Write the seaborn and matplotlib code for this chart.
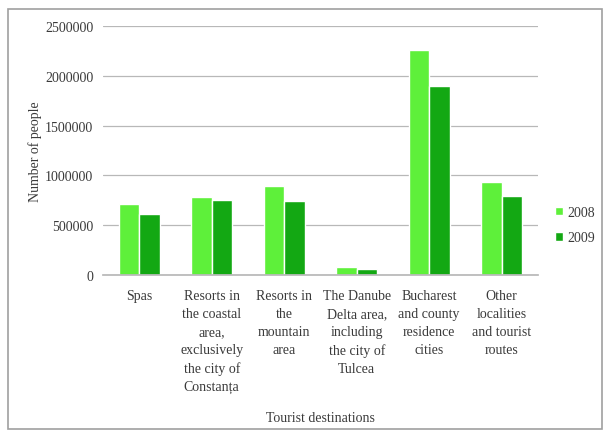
import matplotlib
matplotlib.use("Agg")
import matplotlib.pyplot as plt
from matplotlib.patches import Rectangle
import seaborn as sns
import pandas as pd

categories = [
    "Spas",
    "Resorts in\nthe coastal\narea,\nexclusively\nthe city of\nConstanța",
    "Resorts in\nthe\nmountain\narea",
    "The Danube\nDelta area,\nincluding\nthe city of\nTulcea",
    "Bucharest\nand county\nresidence\ncities",
    "Other\nlocalities\nand tourist\nroutes",
]
values_2008 = [710000, 780000, 890000, 80000, 2260000, 935000]
values_2009 = [610000, 750000, 740000, 60000, 1900000, 790000]
years = ["2008", "2009"]
y_ticks = [0, 500000, 1000000, 1500000, 2000000, 2500000]

df = pd.DataFrame({
    "destination": categories * 2,
    "year": [years[0]] * len(categories) + [years[1]] * len(categories),
    "people": values_2008 + values_2009,
})

sns.set_theme(style="white")
plt.rcParams["font.family"] = ["Liberation Serif", "DejaVu Serif"]

fig = plt.figure(figsize=(6.06, 4.35), dpi=100)
ax = fig.add_axes([103 / 606, 1 - 276 / 435, 435 / 606, 249 / 435])

palette = {"2008": "#5ef03a", "2009": "#13a813"}
sns.barplot(data=df, x="destination", y="people", hue="year", palette=palette,
            width=0.57, saturation=1, ax=ax, legend=True)

text_color = "#3a3a3a"
ax.set_ylim(0, 2500000)
ax.set_yticks(y_ticks)
ax.set_yticklabels([str(v) for v in y_ticks], fontsize=10, color=text_color)
ax.tick_params(axis="x", labelsize=10, colors=text_color, length=0, pad=10)
ax.tick_params(axis="y", length=0, pad=7)
for lab in ax.get_xticklabels():
    lab.set_verticalalignment("top")
    lab.set_linespacing(1.5)
ax.yaxis.grid(True, color="#b8b8b8", linewidth=0.9)
ax.set_axisbelow(True)
for side in ["top", "right", "left"]:
    ax.spines[side].set_visible(False)
ax.spines["bottom"].set_color("#b8b8b8")

ax.set_ylabel("Number of people", fontsize=10, color=text_color)
ax.yaxis.set_label_coords(-0.14, 0.5)
ax.set_xlabel("Tourist destinations", fontsize=10, color=text_color)
ax.xaxis.set_label_coords(0.5, -0.545)

leg = ax.legend(loc="center left", bbox_to_anchor=(1.01, 0.2), frameon=False,
                fontsize=10, handlelength=0.6, handleheight=0.6,
                handletextpad=0.3, labelspacing=0.9)
for t in leg.get_texts():
    t.set_color(text_color)

fig.patches.append(Rectangle((8 / 606, 5 / 435), 594 / 606, 420 / 435,
                             transform=fig.transFigure, fill=False,
                             edgecolor="#a0a0a0", linewidth=1.2))

fig.savefig("out.png", dpi=100)
